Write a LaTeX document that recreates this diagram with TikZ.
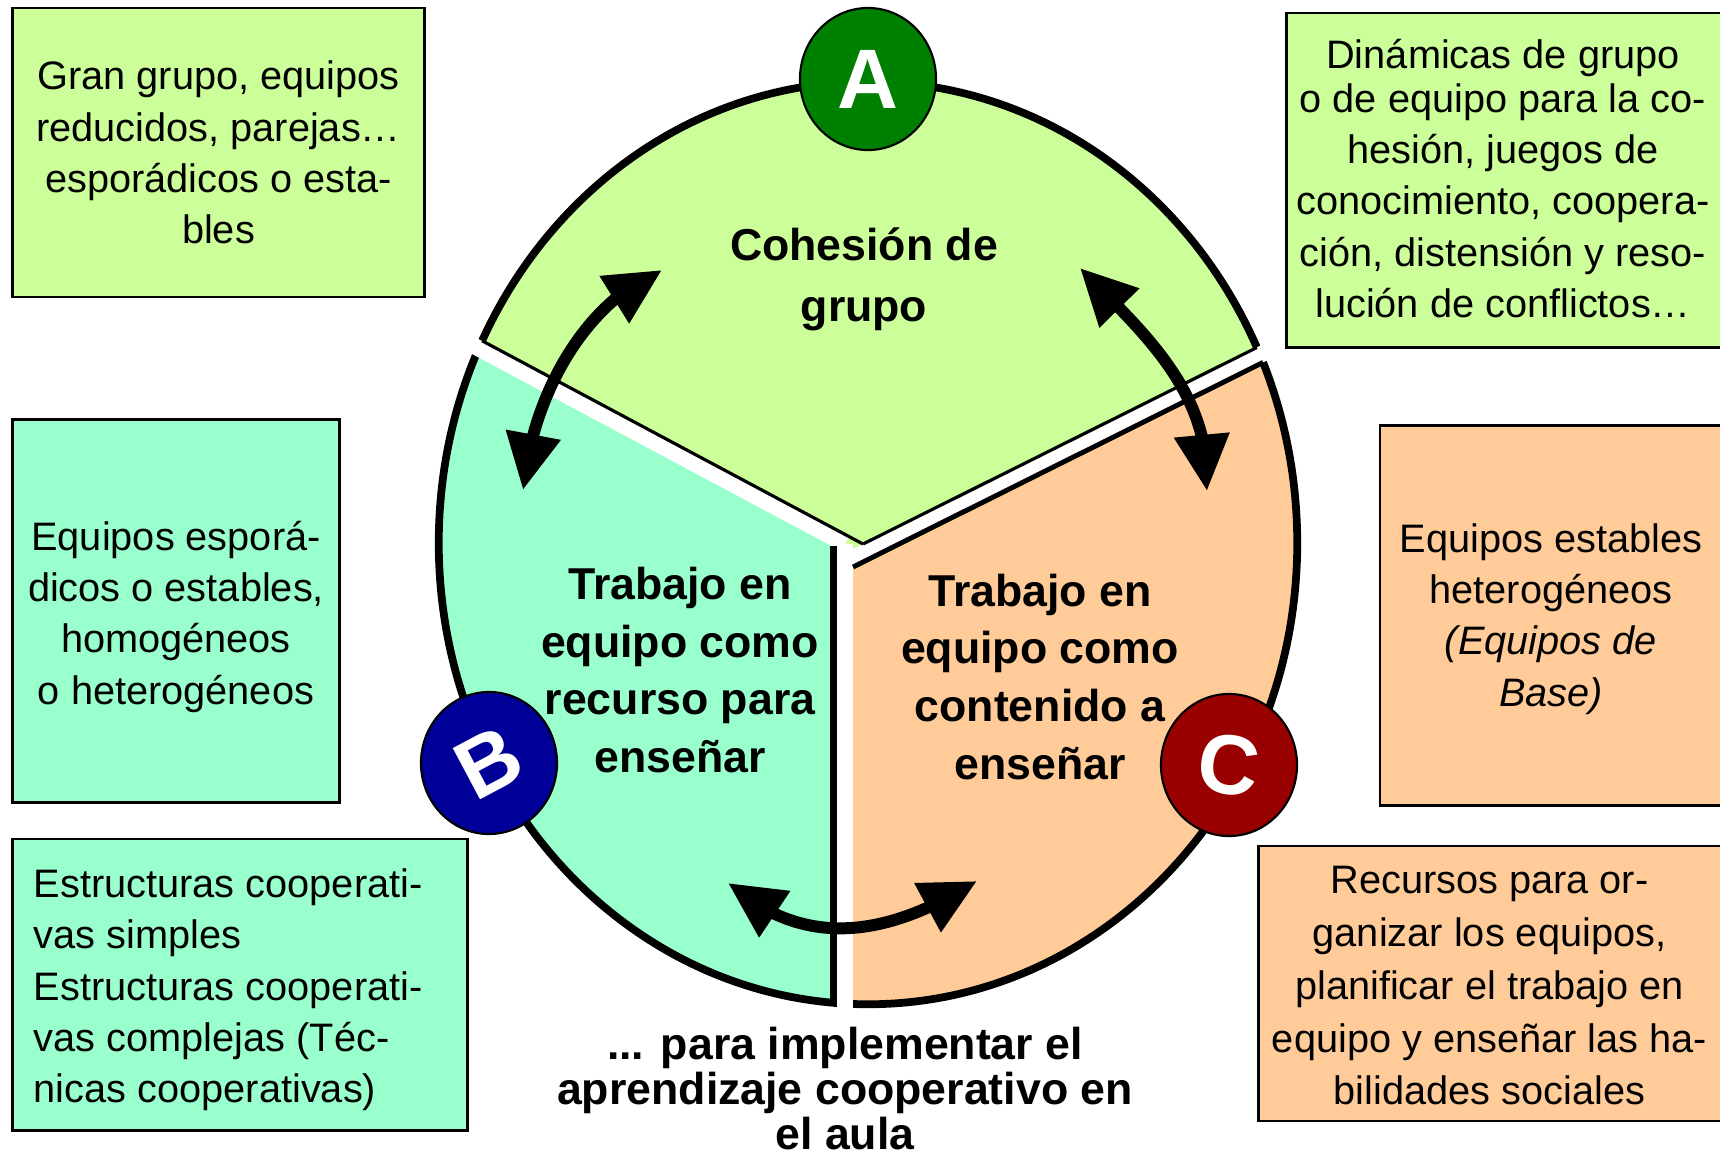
\documentclass[tikz,border=0pt]{standalone}
\usepackage{fontspec}
\setmainfont{Liberation Sans}
\usepackage{graphicx}
\usetikzlibrary{arrows.meta,bending,shapes.geometric}
\definecolor{cgreen}{HTML}{CCFF99}
\definecolor{cteal}{HTML}{99FFCC}
\definecolor{corange}{HTML}{FFCC99}
\definecolor{dgreen}{HTML}{008000}
\definecolor{dblue}{HTML}{000099}
\definecolor{dred}{HTML}{990000}
\tikzset{
  box/.style={draw=black, line width=0.8pt, inner sep=0pt},
  boxtxt/.style={inner sep=0pt, align=center, font=\fontsize{11.3}{14.6}\selectfont},
  ctr/.style={inner sep=0pt, align=center, font=\fontsize{12.7}{16.4}\selectfont\bfseries},
  letter/.style={ellipse, draw=black, line width=0.6pt, minimum width=1.36cm,
    minimum height=1.42cm, inner sep=0pt, text=white, font=\fontsize{24}{24}\selectfont\bfseries},
  dbl/.style={line width=3.4pt, {Triangle[length=16pt,width=15pt]}-{Triangle[length=16pt,width=15pt]}},
  gap/.style={white, line width=4.6pt},
}
\begin{document}
\begin{tikzpicture}[x=0.01cm,y=-0.01cm]
\useasboundingbox (0,0) rectangle (1720,1154);
\clip (0,0) rectangle (1720,1154);

% sectors
\begin{scope}
  \clip (868,543) ellipse [x radius=4.29cm, y radius=4.61cm];
  \fill[cgreen] (850,550) -- (380,296) -- (380,40) -- (1360,40) -- (1360,305) -- cycle;
  \fill[cteal] (850,550) -- (380,296) -- (380,1060) -- (845,1060) -- cycle;
  \fill[corange] (850,550) -- (1360,305) -- (1360,1060) -- (845,1060) -- cycle;
\end{scope}
\draw[line width=2.2pt] (868,543) ellipse [x radius=4.29cm, y radius=4.61cm];
% white gaps
\draw[gap] (845,544) -- (360,285);
\draw[gap] (845,562) -- (1380,295);
\draw[gap] (845,544) -- (845,1030);
% edges
\begin{scope}
  \clip (868,543) ellipse [x radius=4.29cm, y radius=4.61cm];
  \draw[line width=0.9pt] (863,544) -- (400,297);
  \draw[line width=0.9pt] (863,544) -- (1330,311);
  \draw[line width=1.4pt] (853,567) -- (1330,329);
  \draw[line width=1.9pt] (833.5,546) -- (833.5,1020);
\end{scope}

% arrows
\coordinate (l1) at (523,490); \coordinate (l2) at (662,270);
\draw[dbl] (l1) .. controls (533,390) and (588,300) .. (l2);
\coordinate (r1) at (1080,268); \coordinate (r2) at (1207,491);
\draw[dbl] (r1) .. controls (1140,330) and (1212,390) .. (r2);
\coordinate (b1) at (728,883); \coordinate (b2) at (977,881);
\draw[dbl] (b1) .. controls (806,951) and (889,936) .. (b2);

% letters
\node[letter, fill=dgreen] (A) at (868,79) {A};
\node[letter, fill=dblue] (B) at (489,763) {\rotatebox{28}{B}};
\node[letter, fill=dred] (C) at (1229,765) {\rotatebox{-8}{C}};

% center texts
\node[ctr, font=\fontsize{12.7}{17.5}\selectfont\bfseries] (coh) at (864,279.4) {Cohesión de\\grupo};
\node[ctr] (tb) at (680,670) {Trabajo en\\equipo como\\recurso para\\enseñar};
\node[ctr] (tc) at (1040,676.8) {Trabajo en\\equipo como\\contenido a\\enseñar};
\node[ctr, font=\fontsize{12.7}{12.8}\selectfont\bfseries] (imp) at (845,1088.5) {... para implementar el\\aprendizaje cooperativo en\\el aula};

% boxes
\node[box, fill=cgreen, minimum width=4.11cm, minimum height=2.89cm] (tl) at (218.5,152.5) {};
\node[boxtxt] (tlt) at (218.5,152.5)
  {Gran grupo, equipos\\reducidos, parejas…\\esporádicos o esta-\\bles};
\node[box, fill=cgreen, minimum width=4.35cm, minimum height=3.34cm] (tr) at (1504.5,180) {};
\node[boxtxt] (trt) at (1503,178.4)
  {Dinámicas de grupo\\[-2.1pt]o de equipo para la co-\\hesión, juegos de\\conocimiento, coopera-\\ción, distensión y reso-\\lución de conflictos…};
\node[box, fill=cteal, minimum width=3.26cm, minimum height=3.82cm] (lm) at (176,611) {};
\node[boxtxt] (lmt) at (176,616.5)
  {Equipos esporá-\\dicos o estables,\\homogéneos\\o heterogéneos};
\node[box, fill=cteal, minimum width=4.54cm, minimum height=2.91cm] (lb) at (240,984.5) {};
\node[boxtxt, text width=4.12cm, align=flush left] (lbt) at (240,990)
  {Estructuras cooperati-\\vas simples\\Estructuras cooperati-\\vas complejas (Téc-\\nicas cooperativas)};
\node[box, fill=corange, minimum width=3.42cm, minimum height=3.79cm] (rm) at (1551,615.5) {};
\node[boxtxt] (rmt) at (1551,619)
  {Equipos estables\\heterogéneos\\\textit{(Equipos de}\\\textit{Base)}};
\node[box, fill=corange, minimum width=4.63cm, minimum height=2.75cm] (rb) at (1490.5,983.5) {};
\node[boxtxt, font=\fontsize{11.3}{15}\selectfont] (rbt) at (1489.5,986)
  {Recursos para or-\\ganizar los equipos,\\planificar el trabajo en\\equipo y enseñar las ha-\\bilidades sociales};
\end{tikzpicture}
\end{document}
